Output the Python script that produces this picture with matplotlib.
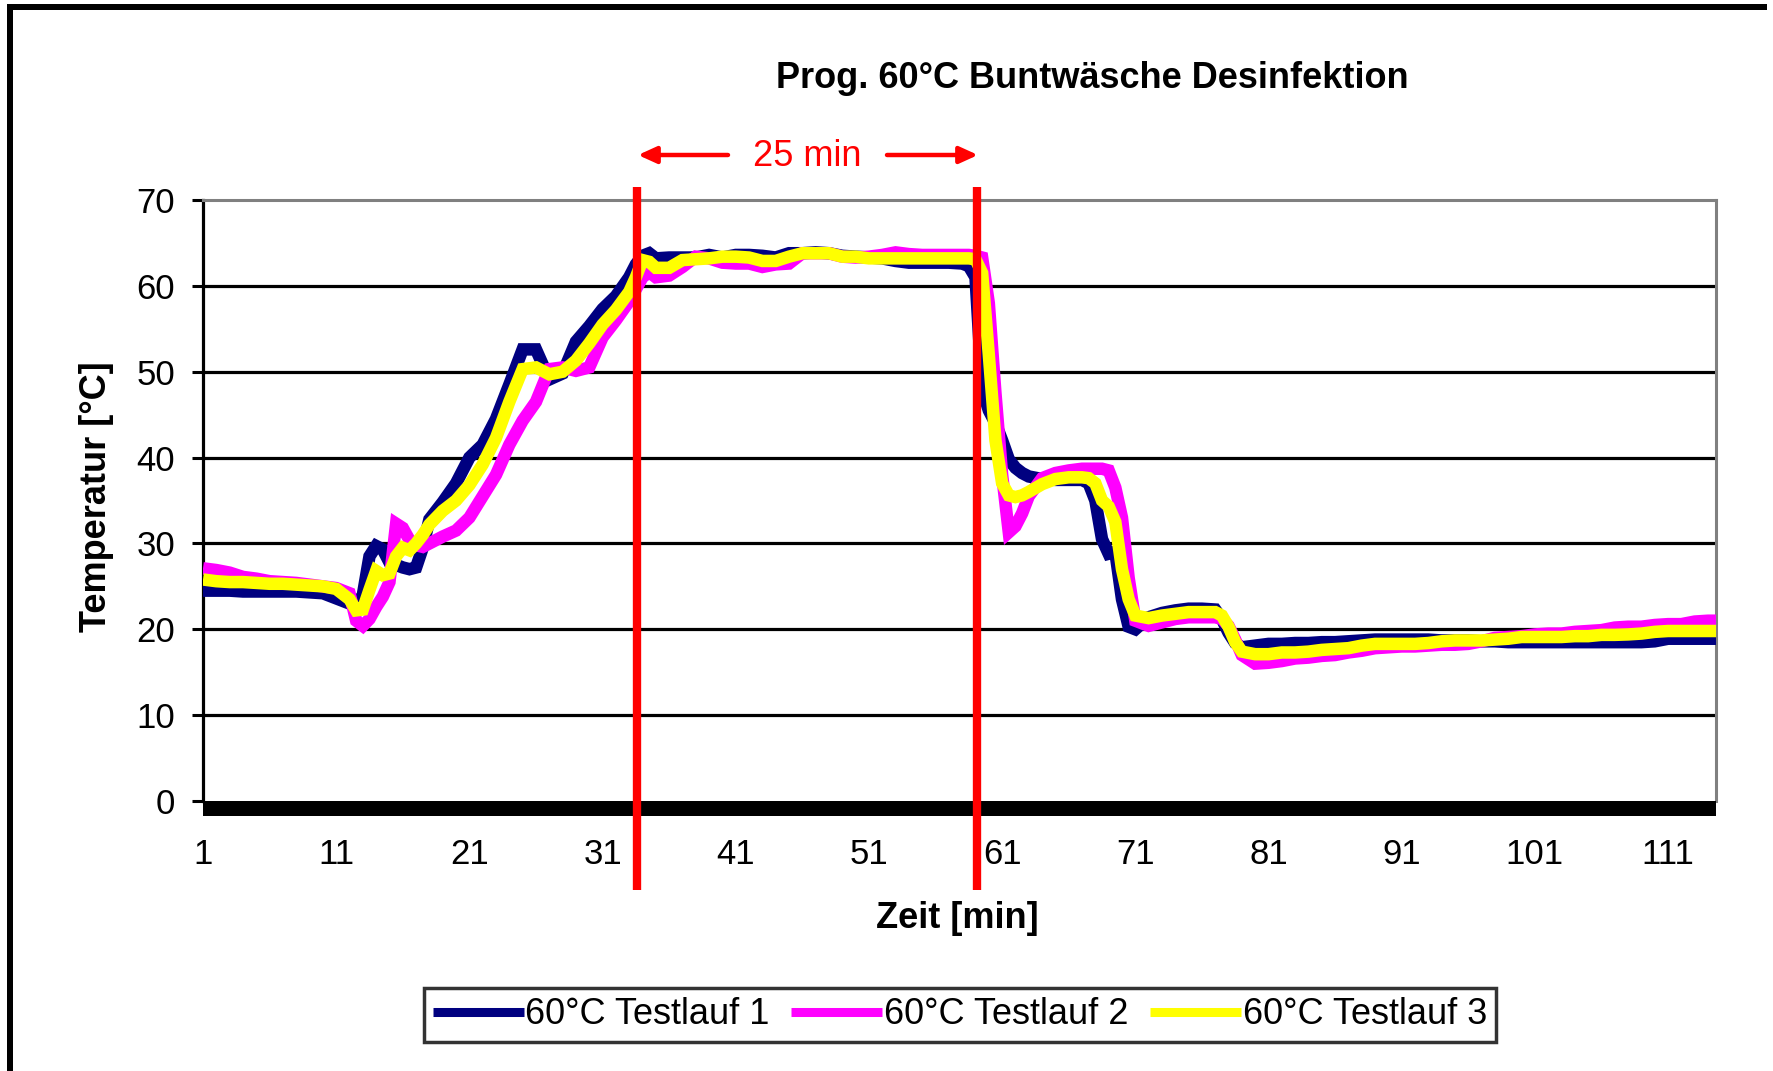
import matplotlib
matplotlib.use("Agg")
import matplotlib.pyplot as plt
from matplotlib.patches import Rectangle, FancyArrowPatch
from matplotlib.lines import Line2D
import matplotlib.transforms as mtransforms

plt.rcParams['font.family'] = ['Liberation Sans', 'DejaVu Sans']

# ---------------- data ----------------
time_min = ([1, 2, 3, 4, 5, 6, 7, 8, 9, 10, 11, 12]
            + [12.5, 13, 13.5, 14, 14.5, 15, 15.5, 16, 16.5, 17, 17.5]
            + list(range(18, 34))
            + [33.5, 34, 34.5, 35]
            + list(range(36, 59))
            + [58.5, 59, 59.5, 60, 60.5, 61, 61.5, 62, 62.5]
            + [63, 64, 65, 66, 67]
            + [67.5, 68, 68.5, 69, 69.5, 70, 70.5, 71]
            + [72, 73, 74, 75, 76, 77]
            + [77.5, 78, 78.5, 79]
            + list(range(80, 115))
            + [114.6])

run1 = ([24.5, 24.5, 24.5, 24.4, 24.4, 24.4, 24.4, 24.4, 24.3, 24.2, 23.6, 23.0]
        + [22.8, 24.0, 28.5, 29.7, 29.3, 27.8, 27.5, 27.2, 27.0, 27.2, 29.5]
        + [32.8, 34.8, 37.0, 40.0, 41.5, 44.5, 48.5, 52.6, 52.6, 49.1, 49.8, 53.5, 55.3, 57.3, 58.8, 61.0]
        + [62.5, 63.5, 63.8, 63.2]
        + [63.3, 63.3, 63.3, 63.6, 63.3, 63.6, 63.6, 63.5, 63.3, 63.8, 63.8, 63.9, 63.8, 63.5, 63.4,
           63.3, 63.2, 62.9, 62.7, 62.7, 62.7, 62.7, 62.6]
        + [62.3, 61.0, 48.0, 45.5, 44.0, 42.0, 39.8, 38.8, 38.2]
        + [37.8, 37.5, 37.4, 37.4, 37.4]
        + [37.0, 35.0, 30.5, 28.8, 29.0, 23.5, 20.3, 20.0]
        + [21.4, 21.9, 22.2, 22.4, 22.4, 22.3]
        + [21.2, 19.6, 18.4, 17.9]
        + [18.1, 18.3, 18.3, 18.4, 18.4, 18.5, 18.5, 18.6, 18.7, 18.8, 18.8, 18.8, 18.8, 18.8, 18.7,
           18.7, 18.7, 18.6, 18.6, 18.5, 18.5, 18.5, 18.5, 18.5, 18.5, 18.5, 18.5, 18.5, 18.5, 18.5,
           18.6, 18.9, 18.9, 18.9, 18.9]
        + [18.9])

run2 = ([27.1, 26.9, 26.6, 26.1, 25.9, 25.6, 25.5, 25.4, 25.2, 25.0, 24.8, 24.2]
        + [21.0, 20.4, 21.2, 22.6, 23.8, 25.5, 32.3, 31.8, 30.4, 29.8, 29.6]
        + [30.0, 30.8, 31.5, 33.0, 35.5, 38.0, 41.5, 44.3, 46.5, 50.3, 50.5, 50.1, 50.5, 54.0, 56.0, 58.2]
        + [59.6, 61.0, 61.6, 61.0]
        + [61.2, 62.2, 63.4, 63.2, 62.7, 62.6, 62.6, 62.2, 62.5, 62.6, 63.8, 63.8, 63.8, 63.4, 63.3,
           63.4, 63.6, 63.9, 63.7, 63.6, 63.6, 63.6, 63.6]
        + [63.6, 63.5, 63.3, 58.0, 47.5, 38.0, 31.3, 32.0, 33.5]
        + [35.5, 37.6, 38.2, 38.5, 38.7]
        + [38.7, 38.7, 38.7, 38.5, 36.5, 33.0, 26.0, 21.0]
        + [20.4, 20.8, 21.2, 21.4, 21.4, 21.4]
        + [21.2, 20.4, 18.8, 17.0]
        + [16.0, 16.1, 16.3, 16.6, 16.7, 16.9, 17.0, 17.3, 17.5, 17.8, 17.9, 18.0, 18.0, 18.1, 18.2,
           18.2, 18.3, 18.6, 19.0, 19.1, 19.2, 19.4, 19.5, 19.5, 19.7, 19.8, 19.9, 20.2, 20.3, 20.3,
           20.5, 20.6, 20.6, 20.9, 21.0]
        + [21.0])

run3 = ([25.8, 25.6, 25.5, 25.5, 25.4, 25.3, 25.3, 25.2, 25.1, 25.0, 24.7, 23.5]
        + [22.2, 22.3, 24.6, 26.8, 26.3, 26.5, 28.5, 29.5, 29.2, 30.0, 31.0]
        + [32.2, 33.8, 35.0, 36.8, 39.2, 42.3, 46.5, 50.3, 50.5, 49.7, 50.0, 51.3, 53.3, 55.5, 57.2, 59.3]
        + [61.0, 63.0, 62.8, 62.1]
        + [62.1, 63.0, 63.1, 63.2, 63.4, 63.4, 63.3, 62.9, 62.9, 63.4, 63.8, 63.8, 63.8, 63.4, 63.4,
           63.2, 63.2, 63.2, 63.2, 63.2, 63.2, 63.2, 63.2]
        + [63.2, 63.1, 61.5, 52.0, 42.0, 37.0, 35.6, 35.4, 35.6]
        + [36.0, 36.9, 37.5, 37.7, 37.7]
        + [37.6, 37.0, 35.0, 34.3, 32.5, 27.0, 23.5, 21.6]
        + [21.3, 21.6, 21.8, 22.0, 22.0, 22.0]
        + [21.6, 20.3, 18.5, 17.4]
        + [17.1, 17.1, 17.3, 17.3, 17.4, 17.6, 17.7, 17.8, 18.1, 18.3, 18.3, 18.3, 18.3, 18.4, 18.6,
           18.7, 18.7, 18.7, 18.8, 18.9, 19.1, 19.1, 19.1, 19.1, 19.2, 19.2, 19.35, 19.35, 19.4, 19.5,
           19.7, 19.8, 19.8, 19.8, 19.8]
        + [19.8])

series_labels = ["60°C Testlauf 1", "60°C Testlauf 2", "60°C Testlauf 3"]
series_colors = ["#000080", "#FF00FF", "#FFFF00"]
x_tick_values = [1, 11, 21, 31, 41, 51, 61, 71, 81, 91, 101, 111]
y_tick_values = [0, 10, 20, 30, 40, 50, 60, 70]
marker_start = 33.55   # start of 25 min disinfection window
marker_end = 59.1      # end of window

assert len(time_min) == len(run1) == len(run2) == len(run3)

# ---------------- figure ----------------
W, H = 1773, 1071
fig = plt.figure(figsize=(W / 100, H / 100), dpi=100)
fig.patch.set_facecolor("white")

ax_left, ax_right, ax_top, ax_bot = 203, 1716, 200, 801
ax = fig.add_axes([ax_left / W, 1 - ax_bot / H, (ax_right - ax_left) / W, (ax_bot - ax_top) / H])

for y, col, lab in zip([run1, run2, run3], series_colors, series_labels):
    ax.plot(time_min, y, color=col, lw=9, solid_capstyle="butt", solid_joinstyle="miter", zorder=3)

ax.set_xlim(1, 114.6)
ax.set_ylim(0, 70)

# gridlines (black) at 10..60
for v in y_tick_values[1:-1]:
    ax.axhline(v, color="black", lw=2.3, zorder=1)

ax.set_yticks(y_tick_values)
ax.set_yticklabels([str(v) for v in y_tick_values])
ax.set_xticks(x_tick_values)
ax.set_xticklabels([str(v) for v in x_tick_values])
ax.tick_params(axis="y", direction="out", length=8, width=2.2, color="black",
               labelsize=25, pad=12)
ax.tick_params(axis="x", length=0, labelsize=25, pad=27)

for s in ["top", "right"]:
    ax.spines[s].set_color("#808080")
    ax.spines[s].set_linewidth(2.2)
ax.spines["left"].set_color("black")
ax.spines["left"].set_linewidth(2.3)
ax.spines["bottom"].set_visible(False)

# thick x-axis band under 0
band_h = 15 / (ax_bot - ax_top)
ax.add_patch(Rectangle((0, -band_h), 1, band_h, transform=ax.transAxes,
                       facecolor="black", edgecolor="none", clip_on=False, zorder=5))

# red vertical marker lines
trans = mtransforms.blended_transform_factory(ax.transData, ax.transAxes)
y0 = (ax_bot - 890) / (ax_bot - ax_top)
y1 = (ax_bot - 187) / (ax_bot - ax_top)
for xm in [marker_start, marker_end]:
    ax.plot([xm, xm], [y0, y1], transform=trans, color="#FF0000", lw=6,
            clip_on=False, zorder=6, solid_capstyle="butt")

# arrows and label
def fx(px):
    return px / W

def fy(py):
    return 1 - py / H

for tail, tip in [(728, 638), (887, 978)]:
    arr = FancyArrowPatch((fx(tail), fy(155)), (fx(tip), fy(155)), transform=fig.transFigure,
                          arrowstyle="-|>,head_length=11,head_width=5", mutation_scale=1,
                          color="#FF0000", lw=3.2, shrinkA=0, shrinkB=0)
    fig.add_artist(arr)
fig.text(fx(807), fy(156), "25 min", color="#FF0000", fontsize=26, ha="center", va="center")

# title & labels
fig.text(fx(1092), fy(79), "Prog. 60°C Buntwäsche Desinfektion", fontsize=26,
         fontweight="bold", ha="center", va="center")
fig.text(fx(957), fy(918), "Zeit [min]", fontsize=26, fontweight="bold", ha="center", va="center")
fig.text(fx(96), fy(497), "Temperatur [°C]", fontsize=26, fontweight="bold", ha="center",
         va="center", rotation=90)

# legend
handles = [Line2D([0], [0], color=c, lw=6.5, solid_capstyle="butt") for c in series_colors]
leg = fig.legend(handles, series_labels, loc="center", bbox_to_anchor=(fx(960), fy(1015)),
                 ncol=3, fontsize=26, frameon=True, fancybox=False, handlelength=2.52,
                 handletextpad=0.05, columnspacing=0.6, borderpad=0.25, borderaxespad=0)
leg.get_frame().set_edgecolor("black")
leg.get_frame().set_linewidth(2.5)

# outer frame (top and left)
fig.add_artist(Rectangle((fx(7), fy(10)), (1767 - 7) / W, 6 / H, transform=fig.transFigure,
                         facecolor="black", edgecolor="none"))
fig.add_artist(Rectangle((fx(7), 0), 6 / W, (H - 4) / H, transform=fig.transFigure,
                         facecolor="black", edgecolor="none"))

fig.savefig("out.png", dpi=100)
